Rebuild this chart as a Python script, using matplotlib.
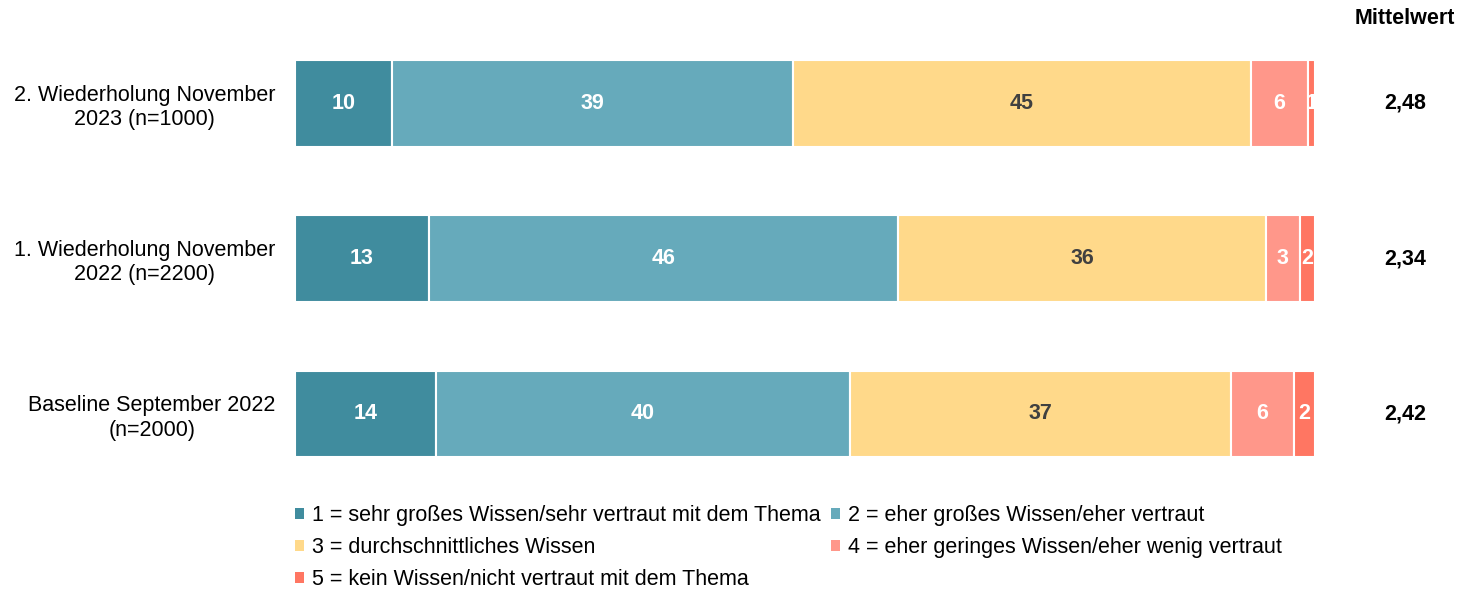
import matplotlib
matplotlib.use("Agg")
from matplotlib import pyplot as plt
from matplotlib.patches import Patch

plt.rcParams["font.family"] = ["Liberation Sans", "DejaVu Sans"]

categories = [
    "2. Wiederholung November\n2023 (n=1000)",
    "1. Wiederholung November\n2022 (n=2200)",
    "Baseline September 2022\n(n=2000)",
]
series_names = [
    "1 = sehr großes Wissen/sehr vertraut mit dem Thema",
    "2 = eher großes Wissen/eher vertraut",
    "3 = durchschnittliches Wissen",
    "4 = eher geringes Wissen/eher wenig vertraut",
    "5 = kein Wissen/nicht vertraut mit dem Thema",
]
# shares per category (bar widths), and the rounded labels shown
shares = [
    [9.5, 39.3, 44.9, 5.6, 0.7],
    [13.1, 46.0, 36.1, 3.3, 1.5],
    [13.8, 40.6, 37.4, 6.1, 2.1],
]
labels = [
    [10, 39, 45, 6, 1],
    [13, 46, 36, 3, 2],
    [14, 40, 37, 6, 2],
]
means = ["2,48", "2,34", "2,42"]

colors = ["#408C9E", "#66AABB", "#FFD98A", "#FF978A", "#FF7662"]
text_colors = ["white", "white", "#404040", "white", "white"]

fs = 15.5

fig = plt.figure(figsize=(14.61, 5.92), dpi=100)
ax = fig.add_axes([0.2019, 0.1696, 0.6982, 0.7867])

ys = list(range(len(categories)))
lefts = [0.0] * len(categories)
for j in range(len(series_names)):
    widths = [row[j] for row in shares]
    ax.barh(ys, widths, 0.56, left=lefts, color=colors[j],
            edgecolor="white", linewidth=1.5)
    for i in ys:
        ax.text(lefts[i] + widths[i] / 2, i, str(labels[i][j]),
                ha="center", va="center", color=text_colors[j],
                fontsize=fs, fontweight="bold")
    lefts = [l + w for l, w in zip(lefts, widths)]

ax.set_xlim(0, 100)
ax.set_ylim(2.5, -0.5)
ax.set_yticks(ys)
ax.set_yticklabels(categories, fontsize=fs, ha="right",
                   multialignment="center", linespacing=1.2)
ax.tick_params(axis="y", length=0, pad=14)
ax.set_xticks([])
for s in ax.spines.values():
    s.set_visible(False)

# Mittelwert column
fig.text(1405 / 1461, 1 - 18 / 592, "Mittelwert", ha="center", va="center",
         fontsize=fs, fontweight="bold")
for i, m in enumerate(means):
    ax.text(1.0885, i, m, transform=ax.get_yaxis_transform(), ha="center",
            va="center", fontsize=fs, fontweight="bold")

# legend, filled row by row
handles = [Patch(facecolor=c, edgecolor="none") for c in colors]
order = [0, 2, 4, 1, 3]
fig.legend([handles[k] for k in order], [series_names[k] for k in order],
           ncol=2, loc="upper left", bbox_to_anchor=(295 / 1461, 1 - 505 / 592),
           frameon=False, fontsize=fs, handlelength=0.4, handleheight=0.4,
           handletextpad=0.37, columnspacing=0.5, labelspacing=0.52,
           borderaxespad=0, borderpad=0)

fig.savefig("out.png", dpi=100)
